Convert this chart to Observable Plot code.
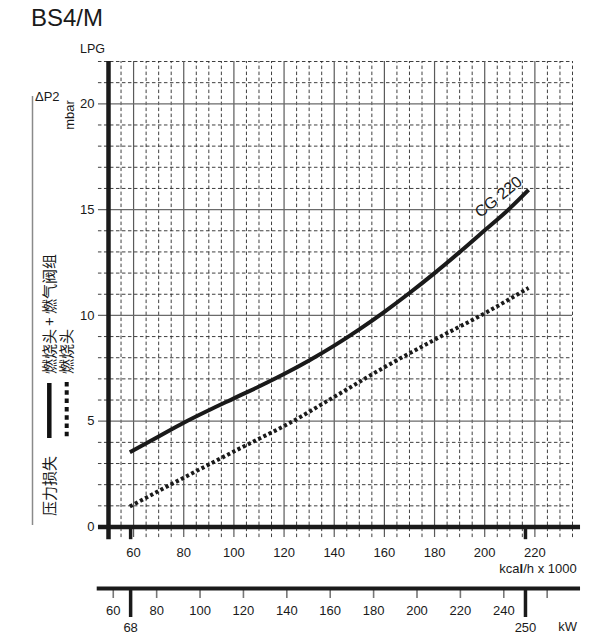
<!DOCTYPE html>
<html>
<head>
<meta charset="utf-8">
<script src="https://cdn.jsdelivr.net/npm/d3@7"></script>
<script src="https://cdn.jsdelivr.net/npm/@observablehq/plot@0.6"></script>
<style>
  html, body { margin: 0; padding: 0; background: #fff; }
  #wrap { position: relative; width: 608px; height: 634px; overflow: hidden; font-family: Arial, "Liberation Sans", sans-serif; color: #1a1a1a; }
  #main, #kw, #over { position: absolute; left: 0; }
  #main { top: 0; }
  #kw { top: 560px; }
  #over { top: 0; pointer-events: none; }
</style>
</head>
<body>
<div id="wrap">
  <div id="main"></div>
  <div id="kw"></div>
  <svg id="over" width="608" height="634" xmlns="http://www.w3.org/2000/svg"
       font-family="Arial, 'Liberation Sans', sans-serif" fill="#1a1a1a">
    <text x="31" y="26" font-size="24">BS4/M</text>
    <text x="80" y="52.5" font-size="12.5">LPG</text>
    <text x="35" y="101" font-size="13">ΔP2</text>
    <text transform="translate(73.5,115) rotate(-90)" font-size="13" text-anchor="middle">mbar</text>
    <line x1="32.5" y1="96" x2="32.5" y2="525" stroke="#8a8a8a" stroke-width="1.5"/>
    <line x1="49.3" y1="383" x2="49.3" y2="438" stroke="#111" stroke-width="4.5"/>
    <line x1="66.7" y1="382" x2="66.7" y2="440" stroke="#111" stroke-width="4" stroke-dasharray="4.5,3.8"/>
    <g font-family="'Noto Sans CJK SC', sans-serif" font-size="15">
      <text transform="translate(54.8,516) rotate(-90)">压力损失</text>
      <text transform="translate(54.8,374) rotate(-90)">燃烧头 + 燃气阀组</text>
      <text transform="translate(72.2,374) rotate(-90)">燃烧头</text>
    </g>
    <text x="576.7" y="573" font-size="13" text-anchor="end">kca<tspan font-weight="bold">l</tspan>/h x 1000</text>
    <text x="567.7" y="631" font-size="13" text-anchor="middle">kW</text>
  </svg>
</div>
<script>
// ---- data ----
const kcalTicks = [60, 80, 100, 120, 140, 160, 180, 200, 220];
const pressureTicks = [0, 5, 10, 15, 20];
const majorX = [60, 80, 100, 120, 140, 160, 180, 200, 220];
const minorX = [55, 65, 70, 75, 85, 90, 95, 105, 110, 115, 125, 130, 135, 145, 150, 155,
                165, 170, 175, 185, 190, 195, 205, 210, 215, 225, 230, 235];
const majorY = [5, 10, 15, 20];
const minorY = [1, 2, 3, 4, 6, 7, 8, 9, 11, 12, 13, 14, 16, 17, 18, 19, 21, 22];

// solid: burner head + gas train (燃烧头 + 燃气阀组)
const capacitySolid = [58.5, 70, 80, 90, 100, 110, 120, 130, 140, 150, 160, 170, 180, 190, 200, 210, 217.5];
const lossSolid     = [3.53, 4.28, 4.93, 5.52, 6.08, 6.64, 7.23, 7.87, 8.57, 9.34, 10.17, 11.06, 12.0, 12.99, 14.02, 15.06, 15.93];
// dotted: burner head only (燃烧头)
const capacityDotted = [58.5, 70, 80, 90, 100, 110, 120, 140, 160, 180, 200, 217.5];
const lossDotted     = [0.97, 1.7, 2.33, 2.95, 3.57, 4.17, 4.77, 6.15, 7.55, 8.85, 10.1, 11.3];

const curveLabel = ["CG 220"];
const curveLabelAt = {x: 205.5, y: 15.6};

const kwTicks = [60, 80, 100, 120, 140, 160, 180, 200, 220, 240];
const kwUnlabeled = [260];
const kwRange = [68, 250];
const KCAL_PER_KW = 0.865;

const xDomain = [50, 235];
const yDomain = [0, 22];
const gridLeft = 46, gridBottom = -0.5, axisRight = 238.2, axisBottom = -0.6;

const solidData = capacitySolid.map((c, i) => ({c, p: lossSolid[i]}));
const dottedData = capacityDotted.map((c, i) => ({c, p: lossDotted[i]}));
const toKcal = kw => kw * KCAL_PER_KW;
const font = "Arial, 'Liberation Sans', sans-serif";

const main = Plot.plot({
  width: 608, height: 560,
  marginLeft: 108, marginRight: 36, marginTop: 61, marginBottom: 33.5,
  style: {fontFamily: font, fontSize: "13px", background: "transparent", color: "#1a1a1a"},
  x: {domain: xDomain},
  y: {domain: yDomain},
  marks: [
    Plot.ruleX(minorX, {y1: gridBottom, y2: yDomain[1], stroke: "#2a2a2a", strokeWidth: 0.9, strokeDasharray: "3.5,2.5"}),
    Plot.ruleY(minorY, {x1: gridLeft, x2: xDomain[1], stroke: "#2a2a2a", strokeWidth: 0.9, strokeDasharray: "3.5,2.5"}),
    Plot.ruleX(majorX, {y1: gridBottom, y2: yDomain[1], stroke: "#5a5a5a", strokeWidth: 1.2}),
    Plot.ruleY(majorY, {x1: gridLeft, x2: xDomain[1], stroke: "#6a6a6a", strokeWidth: 1.2}),
    Plot.ruleX([xDomain[0]], {y1: axisBottom, y2: yDomain[1], stroke: "#1a1a1a", strokeWidth: 4.5}),
    Plot.ruleY([0], {x1: gridLeft, x2: axisRight, stroke: "#1a1a1a", strokeWidth: 4.5}),
    Plot.ruleX(kwRange.map(toKcal), {y1: axisBottom, y2: 0, stroke: "#1a1a1a", strokeWidth: 3.5}),
    Plot.line(dottedData, {x: "c", y: "p", curve: "monotone-x", stroke: "#1a1a1a", strokeWidth: 4,
                           strokeDasharray: "3.2,2.6", strokeLinecap: "butt"}),
    Plot.line(solidData, {x: "c", y: "p", curve: "monotone-x", stroke: "#1a1a1a", strokeWidth: 4, strokeLinecap: "butt"}),
    Plot.text(curveLabel, {x: () => curveLabelAt.x, y: () => curveLabelAt.y, text: d => d, rotate: -39, fontSize: 16, fill: "#1a1a1a"}),
    Plot.axisY({ticks: pressureTicks, tickSize: 0, tickPadding: 14, label: null, fontSize: 13}),
    Plot.axisX({ticks: kcalTicks, tickSize: 0, tickPadding: 21, label: null, fontSize: 13})
  ]
});
document.getElementById("main").append(main);

const kw = Plot.plot({
  width: 608, height: 74,
  marginLeft: 108, marginRight: 36, marginTop: 0, marginBottom: 46,
  style: {fontFamily: font, fontSize: "13px", background: "transparent", color: "#1a1a1a"},
  x: {domain: xDomain},
  y: {domain: [0, 1], axis: null},
  marks: [
    Plot.axisX({ticks: kwUnlabeled.map(toKcal), tickSize: 10, tickFormat: () => "", stroke: "#777", strokeWidth: 1.6, label: null}),
    Plot.axisX({ticks: kwTicks.map(toKcal), tickSize: 10, tickPadding: 7, stroke: "#777", strokeWidth: 1.6,
                tickFormat: d => String(Math.round(d / KCAL_PER_KW)), label: null, fontSize: 13}),
    Plot.axisX({ticks: kwRange.map(toKcal), tickSize: 29, tickPadding: 5, stroke: "#1a1a1a", strokeWidth: 3.5,
                tickFormat: d => String(Math.round(d / KCAL_PER_KW)), label: null, fontSize: 13}),
    Plot.ruleY([0], {x1: 45.5, x2: axisRight, stroke: "#1a1a1a", strokeWidth: 4})
  ]
});
document.getElementById("kw").append(kw);
</script>
</body>
</html>
